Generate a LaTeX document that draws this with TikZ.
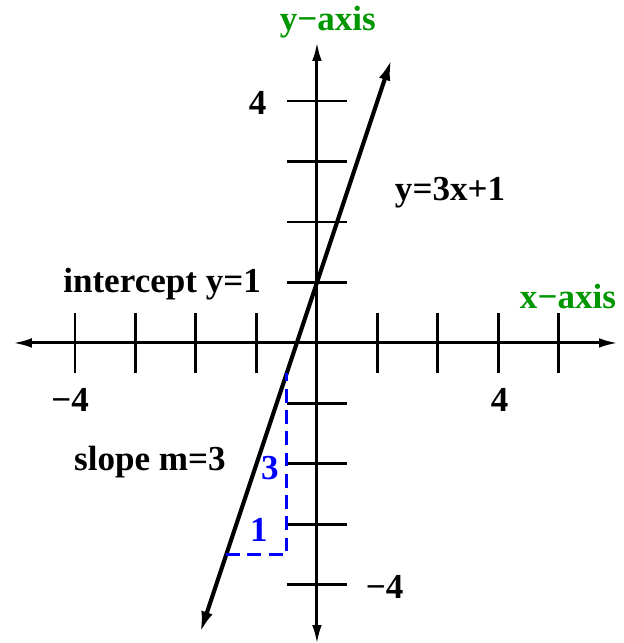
\documentclass[tikz,border=0pt]{standalone}
\usepackage{fontspec}
\setmainfont{Liberation Serif}
\usetikzlibrary{arrows.meta}
\definecolor{axgreen}{RGB}{0,150,0}
\definecolor{slopeblue}{RGB}{0,0,255}
\begin{document}
\begin{tikzpicture}[x=1cm,y=1cm,
  lbl/.style={font=\fontsize{16.5}{20}\selectfont\bfseries, inner sep=0pt},
  axis/.style={line width=1.4pt, -{Latex[length=9pt,width=4.5pt]}},
  tick/.style={line width=1.4pt},
  graphline/.style={line width=1.9pt, {Latex[length=10pt,width=5.5pt]}-{Latex[length=10pt,width=5.5pt]}},
  slopetri/.style={slopeblue, line width=1.4pt, dash pattern=on 6.5pt off 3.5pt}]
\useasboundingbox (-5.24,-4.96) rectangle (5.06,5.67);
% axes
\coordinate (xl) at (-5.03,0);
\coordinate (xr) at (4.98,0);
\coordinate (yb) at (0,-4.98);
\coordinate (yt) at (0,4.98);
\draw[axis] (0,0) -- (xl);
\draw[axis] (0,0) -- (xr);
\draw[axis] (0,0) -- (yb);
\draw[axis] (0,0) -- (yt);
% ticks
\foreach \i in {-4,-3,-2,-1,1,2,3,4}
  \draw[tick] (\i,-0.5) -- (\i,0.5);
\foreach \i in {-4,-3,-2,-1,1,2,3,4}
  \draw[tick] (-0.5,\i) -- (0.5,\i);
% graph line y=3x+1
\coordinate (la) at (-1.93,-4.79);
\coordinate (lb) at (1.23,4.69);
\draw[graphline] (la) -- (lb);
% slope triangle
\coordinate (ta) at (-1.5,-3.5);
\coordinate (tb) at (-0.5,-3.5);
\coordinate (tc) at (-0.5,-0.5);
\draw[slopetri] (ta) -- (tb) -- (tc);
% labels
\node[lbl, text=axgreen] (ylab) at (0.18,5.31) {y−axis};
\node[lbl, text=axgreen] (xlab) at (4.15,0.76) {x−axis};
\node[lbl] (y4) at (-0.98,3.97) {4};
\node[lbl] (ym4) at (1.12,-4.03) {−4};
\node[lbl] (xm4) at (-4.08,-0.94) {−4};
\node[lbl] (x4) at (3.02,-0.94) {4};
\node[lbl] (icpt) at (-2.56,0.98) {intercept y=1};
\node[lbl] (eqn) at (2.20,2.48) {y=3x+1};
\node[lbl] (slope) at (-2.76,-1.97) {slope m=3};
\node[lbl, text=slopeblue] (rise) at (-0.78,-2.07) {3};
\node[lbl, text=slopeblue] (run) at (-0.96,-3.09) {1};
\end{tikzpicture}
\end{document}
